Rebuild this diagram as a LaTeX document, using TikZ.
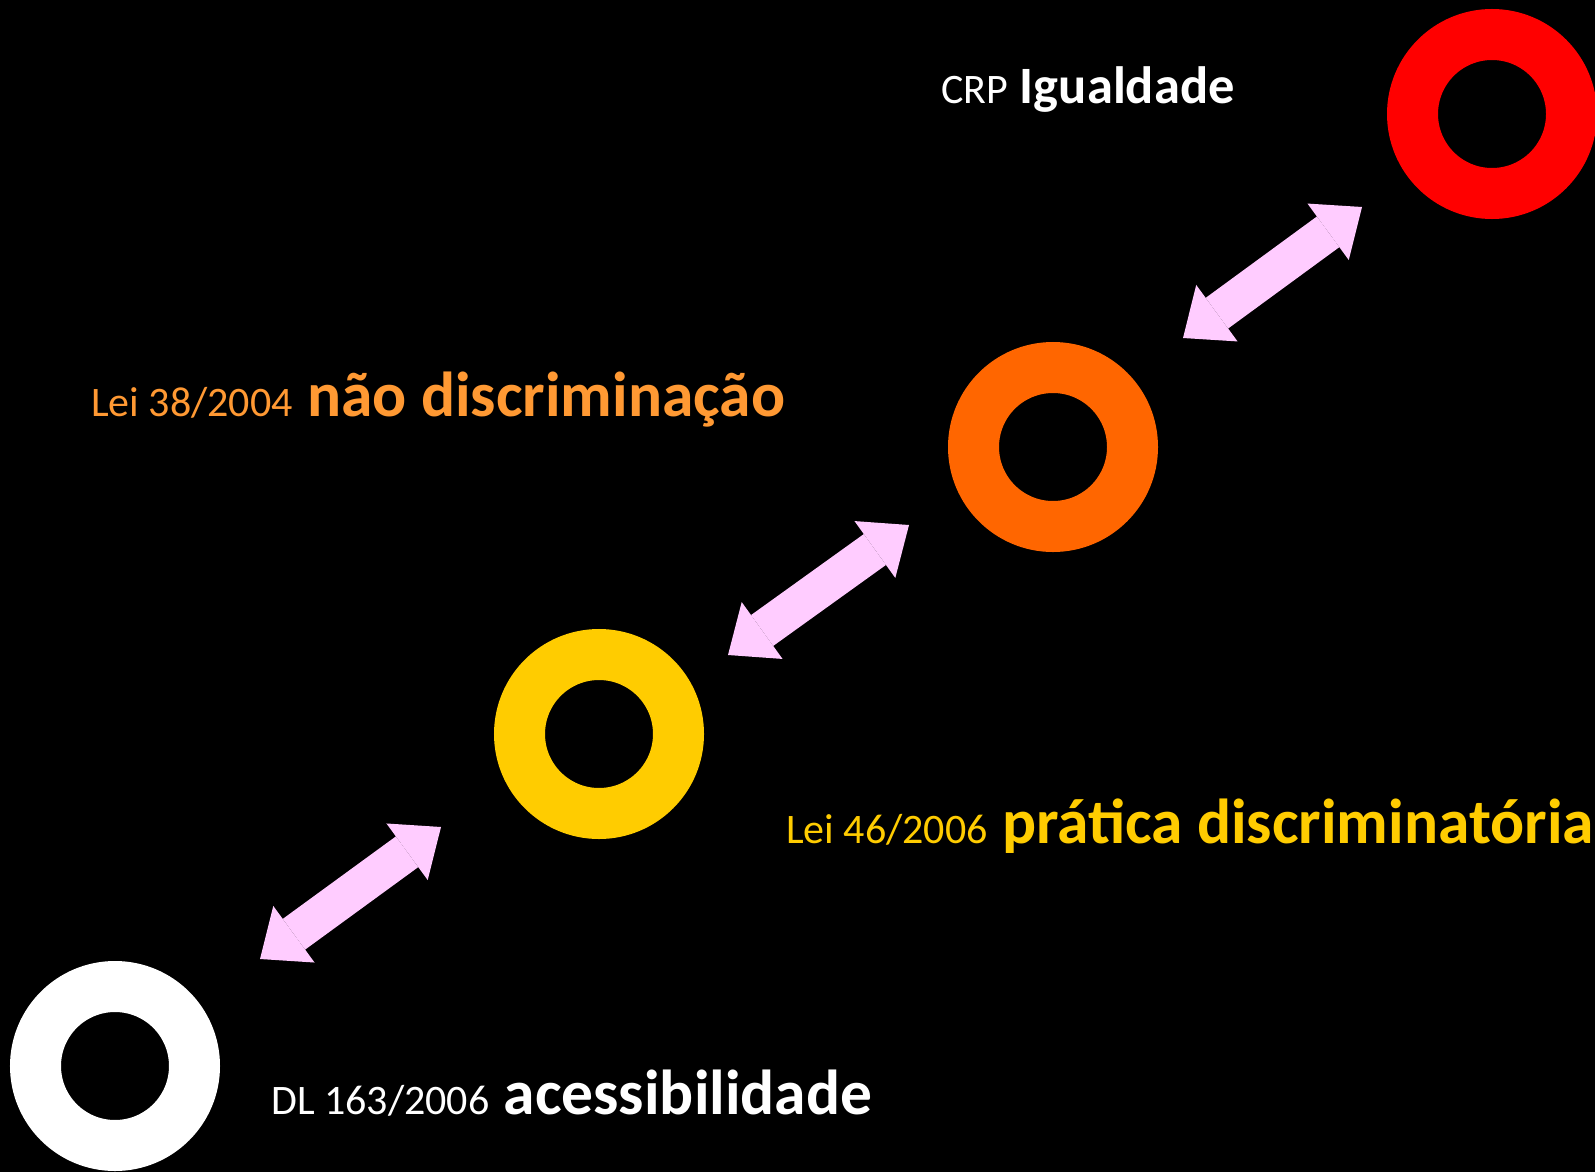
\documentclass[tikz,border=0pt]{standalone}
\usepackage{fontspec}
\setmainfont{Carlito}
\usetikzlibrary{arrows.meta}
\definecolor{ringred}{RGB}{255,0,0}
\definecolor{ringorange}{RGB}{255,102,0}
\definecolor{ringyellow}{RGB}{255,204,0}
\definecolor{textorange}{RGB}{255,153,51}
\definecolor{arrowpink}{RGB}{255,204,255}
\tikzset{
  ring/.style={draw=#1, circle, line width=51pt, minimum size=159pt, inner sep=0pt},
  dblarrow/.style={draw=arrowpink, line width=38pt, {Triangle[width=70pt,length=42pt,line width=0pt]}-{Triangle[width=70pt,length=42pt,line width=0pt]}},
  lawlbl/.style={anchor=base west, inner sep=0pt, text=#1, font=\fontsize{63.5}{70}\selectfont\bfseries},
}
\newcommand{\lawref}[1]{{\mdseries\fontsize{42}{50}\selectfont #1}}

\begin{document}
\begin{tikzpicture}[x=1pt, y=-1pt]
    \fill[black] (0,0) rectangle (1595,1172);
    \useasboundingbox (0,0) rectangle (1595,1172);

    \node[ring=ringred]    (igual)   at (1492,114)  {};
    \node[ring=ringorange] (naodisc) at (1053,447)  {};
    \node[ring=ringyellow] (pratica) at (599,734)   {};
    \node[ring=white]      (acess)   at (115,1066)  {};

    \node[lawlbl=white, font=\fontsize{52.5}{60}\selectfont\bfseries] (igual-lbl) at (941,103)
        {\lawref{CRP} Igualdade};
    \node[lawlbl=textorange] (naodisc-lbl) at (91,416)  {\lawref{Lei 38/2004} não discriminação};
    \node[lawlbl=ringyellow] (pratica-lbl) at (786,843) {\lawref{Lei 46/2006} prática discriminatória};
    \node[lawlbl=white]      (acess-lbl)   at (271,1114) {\lawref{DL 163/2006} acessibilidade};

    \coordinate (a1s) at (1183,338); \coordinate (a1e) at (1362,207);
    \coordinate (a2s) at (728,655);  \coordinate (a2e) at (909,525);
    \coordinate (a3s) at (260,959);  \coordinate (a3e) at (441,827);

    \draw[dblarrow] (a1s) -- (a1e);
    \draw[dblarrow] (a2s) -- (a2e);
    \draw[dblarrow] (a3s) -- (a3e);
\end{tikzpicture}
\end{document}
